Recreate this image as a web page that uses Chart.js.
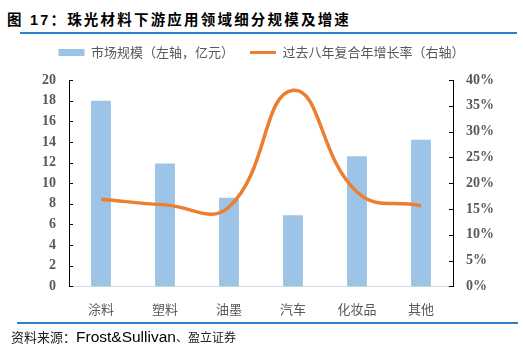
<!DOCTYPE html>
<html>
<head>
<meta charset="utf-8">
<script src="https://cdn.jsdelivr.net/npm/chart.js@4"></script>
<style>
body { margin:0; width:523px; height:354px; position:relative; overflow:hidden; background:#fff; }
#title { position:absolute; left:7px; top:8px; font-weight:bold; font-size:14.5px; letter-spacing:2.2px;
         font-family:"Liberation Sans","Noto Sans CJK SC"; color:#000; white-space:nowrap; }
.rule { position:absolute; height:2px; background:#2f80cc; }
#src { position:absolute; left:11px; top:327px; white-space:nowrap; color:#222; font-family:"Noto Sans CJK SC"; font-size:13px; }
#src .en { font-family:"Liberation Sans"; font-size:15.5px; color:#000; }
#src .sm { font-size:12px; }
#wrap { position:absolute; left:0; top:0; width:523px; height:354px; }
</style>
</head>
<body>
<div id="title">图 17：珠光材料下游应用领域细分规模及增速</div>
<div class="rule" style="left:20px;top:32px;width:497px;"></div>
<div id="wrap"><canvas id="chart"></canvas></div>
<div class="rule" style="left:17px;top:322px;width:501px;"></div>
<div id="src">资料来源：<span class="en">Frost&amp;Sullivan</span><span class="sm">、盈立证券</span></div>
<script>
// data
var categories = ['涂料', '塑料', '油墨', '汽车', '化妆品', '其他'];
var marketSize = [18.0, 11.9, 8.6, 6.9, 12.6, 14.2];   // 亿元, left axis
var cagr = [16.9, 15.8, 15.4, 38.0, 18.3, 15.6];        // %, right axis
var seriesNames = ['市场规模（左轴，亿元）', '过去八年复合年增长率（右轴）'];
var leftTicks = [0, 2, 4, 6, 8, 10, 12, 14, 16, 18, 20];
var rightTicks = [0, 5, 10, 15, 20, 25, 30, 35, 40];

var barColor = '#9dc3e6';
var lineColor = '#ed7d31';
var tickFont = { family: 'Liberation Serif', size: 14, weight: 'bold' };

// short tick marks pointing into the plot
var innerTicks = {
  id: 'innerTicks',
  afterDraw: function(chart) {
    var ctx = chart.ctx;
    ctx.save();
    ctx.strokeStyle = '#000';
    ctx.lineWidth = 1;
    ['y', 'y1'].forEach(function(id) {
      var s = chart.scales[id];
      var x = id === 'y' ? s.right : s.left;
      var dir = id === 'y' ? 1 : -1;
      s.ticks.forEach(function(t, i) {
        var py = Math.round(s.getPixelForTick(i)) + 0.5;
        ctx.beginPath();
        ctx.moveTo(x, py);
        ctx.lineTo(x + dir * 4, py);
        ctx.stroke();
      });
    });
    ctx.restore();
  }
};

// leave some room between the legend and the plot
var legendGap = {
  id: 'legendGap',
  beforeUpdate: function(chart) {
    var lg = chart.legend;
    if (lg && !lg._gap) {
      var fit = lg.fit;
      lg.fit = function() { fit.call(this); this.height += 11; };
      lg._gap = true;
    }
  }
};

var ctx = document.getElementById('chart');
var chart = new Chart(ctx, {
  data: {
    labels: categories,
    datasets: [{
      type: 'line',
      label: seriesNames[1],
      data: cagr,
      yAxisID: 'y1',
      borderColor: lineColor,
      backgroundColor: lineColor,
      borderWidth: 3.5,
      pointRadius: 0,
      tension: 0.45,
      order: 0
    }, {
      type: 'bar',
      label: seriesNames[0],
      data: marketSize,
      yAxisID: 'y',
      backgroundColor: barColor,
      categoryPercentage: 1,
      barPercentage: 0.31,
      order: 1
    }]
  },
  options: {
    responsive: true,
    maintainAspectRatio: false,
    animation: false,
    layout: { padding: { top: 30, bottom: 22, left: 0, right: 0 } },
    plugins: {
      tooltip: { enabled: false },
      legend: {
        position: 'top',
        labels: {
          usePointStyle: true,
          pointStyleWidth: 26,
          boxHeight: 7,
          padding: 16,
          color: '#595959',
          font: { family: 'Noto Sans CJK SC', size: 13 },
          generateLabels: function(chart) {
            return [{
              text: seriesNames[0], pointStyle: 'rect', fillStyle: barColor,
              strokeStyle: barColor, lineWidth: 0, fontColor: '#595959', datasetIndex: 1
            }, {
              text: seriesNames[1], pointStyle: 'line', fillStyle: lineColor,
              strokeStyle: lineColor, lineWidth: 3, fontColor: '#595959', datasetIndex: 0
            }];
          }
        }
      }
    },
    scales: {
      x: {
        offset: true,
        grid: { display: false, drawTicks: false },
        border: { color: '#d9d9d9', width: 1 },
        ticks: { color: '#595959', padding: 15, font: { family: 'Noto Sans CJK SC', size: 13 } }
      },
      y: {
        position: 'left',
        min: 0, max: 20,
        afterBuildTicks: function(s) { s.ticks = leftTicks.map(function(v) { return { value: v }; }); },
        afterFit: function(s) { s.width = 69; },
        grid: { display: false, drawTicks: false },
        border: { color: '#000', width: 1 },
        ticks: { color: '#595959', padding: 13, font: tickFont }
      },
      y1: {
        position: 'right',
        min: 0, max: 40,
        afterBuildTicks: function(s) { s.ticks = rightTicks.map(function(v) { return { value: v }; }); },
        afterFit: function(s) { s.width = 70; },
        grid: { display: false, drawTicks: false },
        border: { color: '#000', width: 1 },
        ticks: { color: '#595959', padding: 13, font: tickFont, callback: function(v) { return v + '%'; } }
      }
    }
  },
  plugins: [innerTicks, legendGap]
});
</script>
</body>
</html>
